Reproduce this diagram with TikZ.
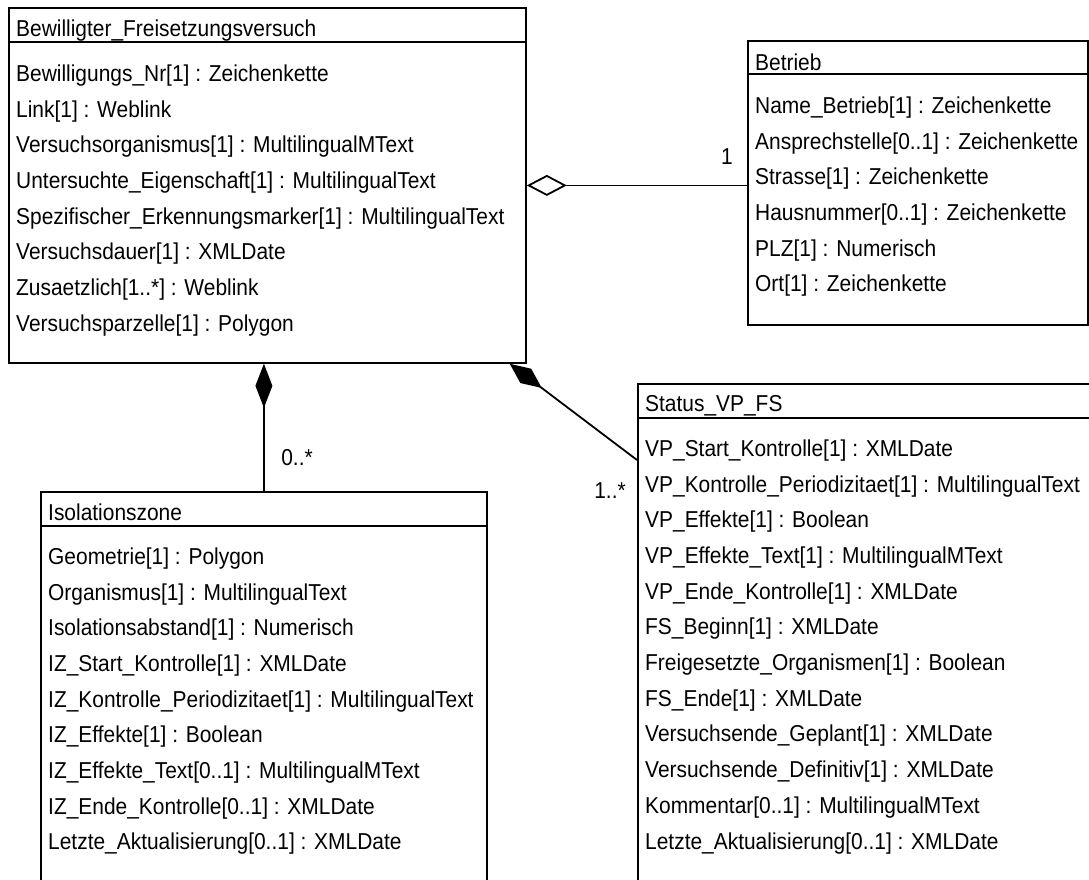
\documentclass[tikz,border=0pt]{standalone}
\usepackage{fontspec}
\setmainfont{Liberation Sans}[FakeStretch=0.91]
\usetikzlibrary{arrows.meta}
\tikzset{
  umlbox/.style={draw, line width=1.8pt, inner sep=0pt, anchor=north west},
  attr/.style={anchor=base west, inner sep=0pt, font=\fontsize{23}{28}\selectfont},
  mult/.style={anchor=base, inner sep=0pt, font=\fontsize{23}{28}\selectfont},
  conn/.style={line width=1.8pt},
  aggr/.style={conn, {Diamond[open,length=40pt,width=21pt,line width=1.8pt]}-},
  comp/.style={conn, {Diamond[length=44pt,width=17pt]}-},
  compd/.style={conn, {Diamond[length=40pt,width=18pt]}-}
}
\begin{document}
\begin{tikzpicture}[x=1pt,y=-1pt]
\useasboundingbox (0,0) rectangle (1089,879);
\fill[white] (0,0) rectangle (1089,879);
\clip (0,0) rectangle (1089,879);

% Bewilligter_Freisetzungsversuch
\node[umlbox, minimum width=517pt, minimum height=355pt] (main) at (8,7) {};
\draw[line width=1.8pt] ([yshift=-35pt]main.north west) -- ([yshift=-35pt]main.north east);
\node[attr] (mt) at (16,36.3) {Bewilligter\_Freisetzungsversuch};
\foreach \t [count=\i from 0] in {
  Bewilligungs\_Nr[1] : Zeichenkette,
  Link[1] : Weblink,
  Versuchsorganismus[1] : MultilingualMText,
  Untersuchte\_Eigenschaft[1] : MultilingualText,
  Spezifischer\_Erkennungsmarker[1] : MultilingualText,
  Versuchsdauer[1] : XMLDate,
  Zusaetzlich[1..*] : Weblink,
  Versuchsparzelle[1] : Polygon}
  \node[attr] (ma\i) at (16,81.3+35.7*\i) {\t};

% Betrieb
\node[umlbox, minimum width=340pt, minimum height=284pt] (betrieb) at (747,40) {};
\draw[line width=1.8pt] ([yshift=-34pt]betrieb.north west) -- ([yshift=-34pt]betrieb.north east);
\node[attr] (bt) at (755,70.3) {Betrieb};
\foreach \t [count=\i from 0] in {
  Name\_Betrieb[1] : Zeichenkette,
  Ansprechstelle[0..1] : Zeichenkette,
  Strasse[1] : Zeichenkette,
  Hausnummer[0..1] : Zeichenkette,
  PLZ[1] : Numerisch,
  Ort[1] : Zeichenkette}
  \node[attr] (ba\i) at (755,113.3+35.7*\i) {\t};

% Isolationszone
\node[umlbox, minimum width=446pt, minimum height=500pt] (iso) at (40,491) {};
\draw[line width=1.8pt] ([yshift=-35pt]iso.north west) -- ([yshift=-35pt]iso.north east);
\node[attr] (it) at (48,520.3) {Isolationszone};
\foreach \t [count=\i from 0] in {
  Geometrie[1] : Polygon,
  Organismus[1] : MultilingualText,
  Isolationsabstand[1] : Numerisch,
  IZ\_Start\_Kontrolle[1] : XMLDate,
  IZ\_Kontrolle\_Periodizitaet[1] : MultilingualText,
  IZ\_Effekte[1] : Boolean,
  IZ\_Effekte\_Text[0..1] : MultilingualMText,
  IZ\_Ende\_Kontrolle[0..1] : XMLDate,
  Letzte\_Aktualisierung[0..1] : XMLDate}
  \node[attr] (ia\i) at (48,564.3+35.7*\i) {\t};

% Status_VP_FS
\node[umlbox, minimum width=500pt, minimum height=600pt] (status) at (637,383) {};
\draw[line width=1.8pt] ([yshift=-35pt]status.north west) -- ([yshift=-35pt]status.north east);
\node[attr] (st) at (645,411.3) {Status\_VP\_FS};
\foreach \t [count=\i from 0] in {
  VP\_Start\_Kontrolle[1] : XMLDate,
  VP\_Kontrolle\_Periodizitaet[1] : MultilingualText,
  VP\_Effekte[1] : Boolean,
  VP\_Effekte\_Text[1] : MultilingualMText,
  VP\_Ende\_Kontrolle[1] : XMLDate,
  FS\_Beginn[1] : XMLDate,
  Freigesetzte\_Organismen[1] : Boolean,
  FS\_Ende[1] : XMLDate,
  Versuchsende\_Geplant[1] : XMLDate,
  Versuchsende\_Definitiv[1] : XMLDate,
  Kommentar[0..1] : MultilingualMText,
  Letzte\_Aktualisierung[0..1] : XMLDate}
  \node[attr] (sa\i) at (645,456.3+35.7*\i) {\t};

% connectors
\draw[aggr] (main.east) -- (main.east -| betrieb.west);
\node[mult] (m1) at (727,164) {1};
\draw[comp] (main.south -| iso.north) -- (iso.north);
\node[mult] (m2) at (297,465) {0..*};
\draw[compd] ([xshift=-17pt]main.south east) -- ([yshift=-77pt]status.north west);
\node[mult] (m3) at (610,498) {1..*};
\end{tikzpicture}
\end{document}
